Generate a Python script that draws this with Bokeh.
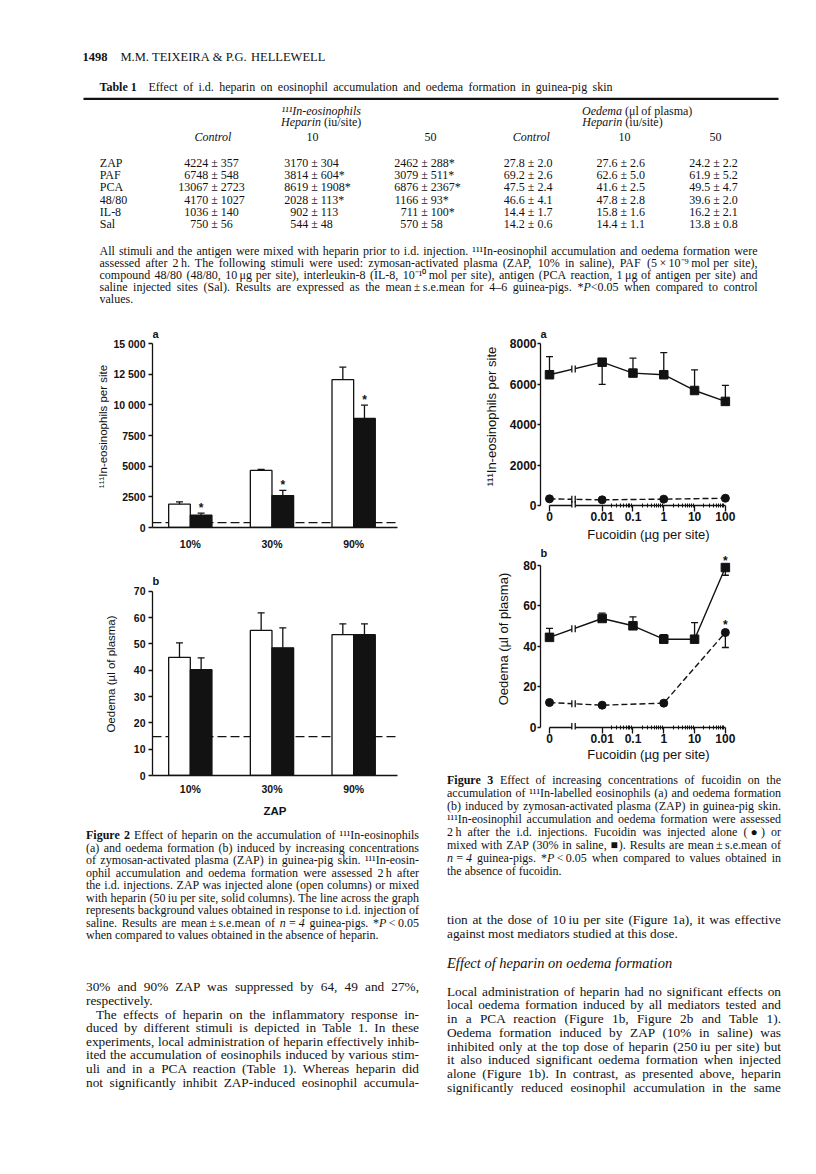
import numpy as np
from collections import defaultdict
from html import escape
from bokeh.plotting import figure
from bokeh.models import Range1d, FixedTicker, Span, Div
from bokeh.layouts import column, row
from bokeh.core.properties import value
from bokeh.embed import file_html
from bokeh.resources import INLINE

INK = "#121212"
SANS = value("Liberation Sans")
SERIF = value("Liberation Serif")

# ---------------- Figure 2 data ----------------
zap_conc = ["10%", "30%", "90%"]
eos_zap_alone = [1900, 4650, 12050]
eos_zap_alone_sem = [190, 80, 1020]
eos_zap_hep = [1000, 2600, 8890]
eos_zap_hep_sem = [170, 420, 1080]
eos_zap_hep_sig = [True, True, True]
eos_saline = 400
oed_zap_alone = [44.9, 55.1, 53.5]
oed_zap_alone_sem = [5.5, 6.7, 4.1]
oed_zap_hep = [40.2, 48.5, 53.5]
oed_zap_hep_sem = [4.5, 7.6, 4.1]
oed_zap_hep_sig = [False, False, False]
oed_saline = 14.8

# ---------------- Figure 3 data ----------------
fuc_dose = [0, 0.01, 0.1, 1, 10, 100]
fuc_labels = ["0", "0.01", "0.1", "1", "10", "100"]
f3a_zap = [6470, 7090, 6550, 6470, 5690, 5150]
f3a_zap_sem = [900, 1100, 740, 1090, 1020, 790]
f3a_zap_side = [1, -1, 1, 1, 1, 1]
f3a_zap_sig = [False] * 6
fuc_alone_dose = [0, 0.01, 1, 100]
f3a_alone = [330, 280, 315, 360]
f3a_alone_sem = [0, 0, 0, 0]
f3a_alone_side = [1, 1, 1, 1]
f3a_alone_sig = [False] * 4
f3b_zap = [44.4, 53.7, 50.1, 43.5, 43.5, 78.8]
f3b_zap_sem = [4.4, 2.6, 4.4, 2.2, 8.2, 3.8]
f3b_zap_side = [1, 1, 1, 1, 1, -1]
f3b_zap_sig = [False, False, False, False, False, True]
f3b_alone = [12.3, 11.0, 12.0, 46.8]
f3b_alone_sem = [0, 0, 0, 7.4]
f3b_alone_side = [1, 1, 1, -1]
f3b_alone_sig = [False, False, False, True]

# ---------------- Table 1 ----------------
tbl_stim = ["ZAP", "PAF", "PCA", "48/80", "IL-8", "Sal"]
tbl_eos_ctrl = ["4224 ± 357", "6748 ± 548", "13067 ± 2723", "4170 ± 1027", "1036 ± 140", "750 ± 56"]
tbl_eos_h10 = ["3170 ± 304", "3814 ± 604*", "8619 ± 1908*", "2028 ± 113*", "902 ± 113", "544 ± 48"]
tbl_eos_h50 = ["2462 ± 288*", "3079 ± 511*", "6876 ± 2367*", "1166 ± 93*", "711 ± 100*", "570 ± 58"]
tbl_oed_ctrl = ["27.8 ± 2.0", "69.2 ± 2.6", "47.5 ± 2.4", "46.6 ± 4.1", "14.4 ± 1.7", "14.2 ± 0.6"]
tbl_oed_h10 = ["27.6 ± 2.6", "62.6 ± 5.0", "41.6 ± 2.5", "47.8 ± 2.8", "15.8 ± 1.6", "14.4 ± 1.1"]
tbl_oed_h50 = ["24.2 ± 2.2", "61.9 ± 5.2", "49.5 ± 4.7", "39.6 ± 2.0", "16.2 ± 2.1", "13.8 ± 0.8"]
tbl_heads = ["§iControl", "10", "50", "§iControl", "10", "50"]

# ---------------- Text ----------------
foot_lines = [
    "All stimuli and the antigen were mixed with heparin prior to i.d. injection. ¹¹¹In-eosinophil accumulation and oedema formation were",
    "assessed after 2\u2009h. The following stimuli were used: zymosan-activated plasma (ZAP, 10% in saline), PAF (5\u2009×\u200910⁻⁹\u2009mol per site),",
    "compound 48/80 (48/80, 10\u2009μg per site), interleukin-8 (IL-8, 10⁻¹⁰\u2009mol per site), antigen (PCA reaction, 1\u2009μg of antigen per site) and",
    "saline injected sites (Sal). Results are expressed as the mean\u2009±\u2009s.e.mean for 4–6 guinea-pigs. *¦§iP¦<0.05 when compared to control",
    "values.",
]
cap2_lines = [
    "§bFigure §b2 Effect of heparin on the accumulation of ¹¹¹In-eosinophils",
    "(a) and oedema formation (b) induced by increasing concentrations",
    "of zymosan-activated plasma (ZAP) in guinea-pig skin. ¹¹¹In-eosin-",
    "ophil accumulation and oedema formation were assessed 2\u2009h after",
    "the i.d. injections. ZAP was injected alone (open columns) or mixed",
    "with heparin (50\u2009iu per site, solid columns). The line across the graph",
    "represents background values obtained in response to i.d. injection of",
    "saline. Results are mean\u2009±\u2009s.e.mean of §in\u2009=\u20094 guinea-pigs. *¦§iP¦\u2009<\u20090.05",
    "when compared to values obtained in the absence of heparin.",
]
left_body = [
    "30% and 90% ZAP was suppressed by 64, 49 and 27%,",
    "respectively.",
    "The effects of heparin on the inflammatory response in-",
    "duced by different stimuli is depicted in Table 1. In these",
    "experiments, local administration of heparin effectively inhib-",
    "ited the accumulation of eosinophils induced by various stim-",
    "uli and in a PCA reaction (Table 1). Whereas heparin did",
    "not significantly inhibit ZAP-induced eosinophil accumula-",
]
cap3_lines = [
    "§bFigure §b3 Effect of increasing concentrations of fucoidin on the",
    "accumulation of ¹¹¹In-labelled eosinophils (a) and oedema formation",
    "(b) induced by zymosan-activated plasma (ZAP) in guinea-pig skin.",
    "¹¹¹In-eosinophil accumulation and oedema formation were assessed",
    "2\u2009h after the i.d. injections. Fucoidin was injected alone (●) or",
    "mixed with ZAP (30% in saline, ■). Results are mean\u2009±\u2009s.e.mean of",
    "§in\u2009=\u20094 guinea-pigs. *¦§iP¦\u2009<\u20090.05 when compared to values obtained in",
    "the absence of fucoidin.",
]
right_body1 = [
    "tion at the dose of 10\u2009iu per site (Figure 1a), it was effective",
    "against most mediators studied at this dose.",
]
right_heading = "Effect of heparin on oedema formation"
right_body2 = [
    "Local administration of heparin had no significant effects on",
    "local oedema formation induced by all mediators tested and",
    "in a PCA reaction (Figure 1b, Figure 2b and Table 1).",
    "Oedema formation induced by ZAP (10% in saline) was",
    "inhibited only at the top dose of heparin (250\u2009iu per site) but",
    "it also induced significant oedema formation when injected",
    "alone (Figure 1b). In contrast, as presented above, heparin",
    "significantly reduced eosinophil accumulation in the same",
]

# ---------------- Times metrics (per 1000 em) ----------------
_TR = {' ': 250, '!': 333, '"': 408, '%': 833, '&': 778, "'": 333, '(': 333, ')': 333, '*': 500,
       '+': 564, ',': 250, '-': 333, '.': 250, '/': 278, ':': 278, ';': 278, '<': 564, '=': 564,
       '>': 564, '?': 444, '±': 549, '×': 564, '–': 500, 'μ': 500, '¹': 300, '⁻': 333, '⁹': 300,
       '⁰': 300, '●': 600, '■': 600, '\u2009': 167}
for c in "0123456789":
    _TR[c] = 500
for c, w in zip("ABCDEFGHIJKLMNOPQRSTUVWXYZ",
                [722, 667, 667, 722, 611, 556, 722, 722, 333, 389, 722, 611, 889, 722, 722, 556, 722,
                 667, 556, 611, 722, 722, 944, 722, 722, 611]):
    _TR[c] = w
for c, w in zip("abcdefghijklmnopqrstuvwxyz",
                [444, 500, 444, 500, 444, 333, 500, 500, 278, 278, 500, 278, 778, 500, 500, 500, 500,
                 333, 389, 278, 500, 500, 722, 500, 500, 444]):
    _TR[c] = w
_TB = {'F': 611, 'i': 278, 'g': 500, 'u': 556, 'r': 444, 'e': 444, 'T': 667, 'a': 500, 'b': 556, 'l': 278}
_TI = {'a': 500, 'r': 389, 'm': 722, 'f': 278, 'k': 444, 'y': 444, 'v': 444, 'w': 667, 'P': 611,
       'z': 389}


def tw(s, size, style="normal"):
    tot = 0.0
    for ch in s:
        w = _TR.get(ch, 500)
        if style == "bold":
            w = _TB.get(ch, w)
        elif style == "italic":
            w = _TI.get(ch, w)
        tot += w
    return tot * size / 1000.0


def parse_word(word):
    runs = []
    for part in word.split("¦"):
        st = "normal"
        if part.startswith("§b"):
            st, part = "bold", part[2:]
        elif part.startswith("§i"):
            st, part = "italic", part[2:]
        runs.append((part, st))
    return runs


def line_words(line):
    return [parse_word(w) for w in line.split(" ") if w]


def words_width(words, size):
    return [sum(tw(t, size, st) for t, st in r) for r in words]


def fit_size(lines, width, size, min_gap=0.2):
    s = size
    for ln in lines:
        words = line_words(ln)
        if len(words) < 2:
            continue
        natural = sum(words_width(words, 1.0))
        need = natural + (len(words) - 1) * min_gap
        s = min(s, width / need)
    return s


# ---------- SVG text placement (top canvas) ----------
def place_line(items, line, x0, x1, y, size, justify=True):
    words = line_words(line)
    widths = words_width(words, size)
    if justify and len(words) > 1:
        gap = (x1 - x0 - sum(widths)) / (len(words) - 1)
    else:
        gap = tw(" ", size)
    x = x0
    for runs, wd in zip(words, widths):
        xr = x
        for t, st in runs:
            items.append(dict(x=xr, y=y, text=t, style=st, size=size, align="left"))
            xr += tw(t, size, st)
        x += wd + gap


def place_center(items, line, cx, y, size):
    words = line_words(line)
    total = sum(words_width(words, size)) + (len(words) - 1) * tw(" ", size)
    place_line(items, line, cx - total / 2, cx + total / 2, y, size, justify=False)


def place_block(items, lines, x0, x1, y0, dy, size, last_left=True):
    for i, ln in enumerate(lines):
        just = not (last_left and i == len(lines) - 1)
        place_line(items, ln, x0, x1, y0 + dy * i, size, justify=just)


def render_items(p, items, font=SERIF):
    groups = defaultdict(lambda: {"x": [], "y": [], "text": []})
    for it in items:
        g = groups[(it["style"], round(it["size"], 2), it["align"])]
        g["x"].append(it["x"])
        g["y"].append(it["y"])
        g["text"].append(it["text"])
    for (st, sz, al), g in groups.items():
        p.text(x=g["x"], y=g["y"], text=g["text"], text_font=font,
               text_font_size=value(f"{sz}px"), text_font_style=st, text_align=al,
               text_baseline="middle", text_color=INK)


def canvas(w, h):
    p = figure(width=w, height=h, x_range=Range1d(0, w), y_range=Range1d(h, 0),
               output_backend="svg", toolbar_location=None, tools="",
               x_axis_type=None, y_axis_type=None,
               min_border_left=0, min_border_right=0, min_border_top=0, min_border_bottom=0)
    p.outline_line_color = None
    p.background_fill_color = "white"
    p.border_fill_color = "white"
    return p


# ---------- HTML text placement (lower text blocks) ----------
def html_word(word):
    out = ""
    for t, st in parse_word(word):
        t = escape(t)
        if st == "bold":
            out += f"<b>{t}</b>"
        elif st == "italic":
            out += f"<i>{t}</i>"
        else:
            out += t
    return out


def html_line(line, x0, x1, yc, size, justify=True):
    content = " ".join(html_word(w) for w in line.split(" ") if w)
    lh = round(size * 1.25, 2)
    al = "justify" if justify else "left"
    return (f'<div style="position:absolute;left:{x0:.1f}px;top:{yc - lh / 2:.1f}px;'
            f'width:{x1 - x0:.1f}px;height:{lh}px;line-height:{lh}px;font-size:{size:.2f}px;'
            f'white-space:nowrap;text-align:{al};text-align-last:{al};margin:0;padding:0;">{content}</div>')


def text_div(w, h, parts):
    html = (f'<div style="position:relative;width:{w}px;height:{h}px;margin:0;padding:0;'
            f'font-family:\'Liberation Serif\',serif;color:{INK};">' + "".join(parts) + '</div>')
    return Div(text=html, width=w, height=h, margin=0)


# ================= top block: header, table 1, footnote =================
top = canvas(816, 310)
items = []
items.append(dict(x=82, y=56, text="1498", style="bold", size=12.5, align="left"))
place_line(items, "M.M. TEIXEIRA & P.G. HELLEWELL", 120, 400, 56, 12.5, justify=False)
items.append(dict(x=99, y=86.7, text="Table 1", style="bold", size=12, align="left"))
place_line(items, "Effect of i.d. heparin on eosinophil accumulation and oedema formation in guinea-pig skin",
           148, 612, 86.7, 12, justify=True)
top.segment(x0=[83], y0=[98.3], x1=[778], y1=[98.3], line_color=INK, line_width=2.2)

place_center(items, "§i¹¹¹In-eosinophils", 320.7, 110, 12)
place_center(items, "§iHeparin (iu/site)", 320.7, 121.7, 12)
place_center(items, "§iOedema (μl of plasma)", 636.7, 110, 12)
place_center(items, "§iHeparin (iu/site)", 622, 121.7, 12)
head_x = [212.7, 312, 430, 531, 624, 715]
for hx, hd in zip(head_x, tbl_heads):
    place_center(items, hd, hx, 136.7, 12)

pm_x = [210.7, 310.7, 420.7, 527.3, 620, 712.7]
cols = [tbl_eos_ctrl, tbl_eos_h10, tbl_eos_h50, tbl_oed_ctrl, tbl_oed_h10, tbl_oed_h50]
TS = 12
for i, stim in enumerate(tbl_stim):
    y = 162.7 + 12.1 * i
    items.append(dict(x=99.3, y=y, text=stim, style="normal", size=TS, align="left"))
    for xpm, col in zip(pm_x, cols):
        mean, rest = col[i].split(" ± ")
        items.append(dict(x=xpm - tw(" ", TS), y=y, text=mean, style="normal", size=TS, align="right"))
        items.append(dict(x=xpm, y=y, text="± " + rest, style="normal", size=TS, align="left"))

fs = fit_size(foot_lines[:-1], 658, 12)
place_block(items, foot_lines, 99, 757, 250.5, 11.9, fs)
render_items(top, items)

# ================= chart helpers =================
def chart_fig(w, h, xr, yr, mbl, mbr, mbt, mbb):
    p = figure(width=w, height=h, x_range=Range1d(*xr), y_range=Range1d(*yr),
               output_backend="svg", toolbar_location=None, tools="",
               min_border_left=mbl, min_border_right=mbr, min_border_top=mbt, min_border_bottom=mbb)
    p.xgrid.visible = False
    p.ygrid.visible = False
    p.outline_line_color = None
    p.background_fill_color = "white"
    p.border_fill_color = "white"
    return p


def style_axis(ax, tick_size, label_size):
    ax.axis_line_color = INK
    ax.axis_line_width = 1.3
    ax.major_tick_line_color = INK
    ax.major_tick_line_width = 1.3
    ax.minor_tick_line_color = INK
    ax.minor_tick_line_width = 1.0
    ax.major_label_text_font = "Liberation Sans"
    ax.major_label_text_font_size = tick_size
    ax.major_label_text_font_style = "bold"
    ax.major_label_text_color = INK
    ax.axis_label_text_font = "Liberation Sans"
    ax.axis_label_text_font_size = label_size
    ax.axis_label_text_font_style = "normal"
    ax.axis_label_text_color = INK


def panel_letter(p, x, y, text):
    p.text(x=[x], y=[y], text=[text], text_font=SANS, text_font_style="bold",
           text_font_size=value("11px"), text_align="left", text_baseline="middle", text_color=INK)


# ================= Figure 2 =================
XC2 = np.arange(1, len(zap_conc) + 1, dtype=float)
BW = 0.265
X2 = (0.537, 3.537)


def bar_chart(p, alone, alone_sem, hep, hep_sem, saline, sig):
    alone = np.array(alone, float); hep = np.array(hep, float)
    alone_sem = np.array(alone_sem, float); hep_sem = np.array(hep_sem, float)
    p.add_layout(Span(location=saline, dimension="width", line_color=INK, line_width=1.3,
                      line_dash="9 4", level="underlay"))
    xo = XC2 - BW / 2
    xs = XC2 + BW / 2
    p.vbar(x=xo, top=alone, bottom=0, width=BW, fill_color="white", line_color=INK, line_width=1.3)
    p.vbar(x=xs, top=hep, bottom=0, width=BW, fill_color=INK, line_color=INK, line_width=1.3)
    ex = np.concatenate([xo, xs])
    ev = np.concatenate([alone, hep])
    es = np.concatenate([alone_sem, hep_sem])
    p.segment(x0=ex, y0=ev, x1=ex, y1=ev + es, line_color=INK, line_width=1.3)
    p.scatter(x=ex, y=ev + es, marker="dash", size=7, line_color=INK, line_width=1.3)
    sg = np.array(sig, bool)
    if sg.any():
        p.text(x=xs[sg], y=(hep + hep_sem)[sg], text=["*"] * int(sg.sum()), text_font=SANS,
               text_font_size=value("12px"), text_font_style="bold", text_align="center",
               text_baseline="bottom", y_offset=2, text_color=INK)


def bar_axes(p, ticks, overrides, bounds, ylabel, y_als, x_std):
    style_axis(p.xaxis[0], "10.5px", "11.5px")
    style_axis(p.yaxis[0], "10.5px", "11.5px")
    p.xaxis.ticker = FixedTicker(ticks=list(XC2))
    p.xaxis.major_label_overrides = {float(x): c for x, c in zip(XC2, zap_conc)}
    p.xaxis.major_tick_in = 0
    p.xaxis.major_tick_out = 0
    p.xaxis.minor_tick_in = 0
    p.xaxis.minor_tick_out = 0
    p.xaxis.major_label_standoff = x_std
    p.yaxis.ticker = FixedTicker(ticks=ticks)
    p.yaxis.major_label_overrides = overrides
    p.yaxis.bounds = bounds
    p.yaxis.major_tick_in = 0
    p.yaxis.major_tick_out = 4
    p.yaxis.minor_tick_in = 0
    p.yaxis.minor_tick_out = 0
    p.yaxis.major_label_standoff = 3
    p.yaxis.axis_label = ylabel
    p.yaxis.axis_label_standoff = y_als


# -- 2a: frame 245 x 202 (325..527), 15000 at 184 px
upp2a = 15000 / 184.0
f2a = chart_fig(432, 250, X2, (0, 202 * upp2a), 152, 35, 15, 33)
bar_chart(f2a, eos_zap_alone, eos_zap_alone_sem, eos_zap_hep, eos_zap_hep_sem, eos_saline, eos_zap_hep_sig)
bar_axes(f2a, [0, 2500, 5000, 7500, 10000, 12500, 15000],
         {10000: "10 000", 12500: "12 500", 15000: "15 000"}, (0, 15000),
         "¹¹¹In-eosinophils per site", 1, 10)
panel_letter(f2a, X2[0], 193.7 * upp2a, "a")

# -- 2b: frame 245 x 203 (572..775), 70 at 184.3 px
upp2b = 70 / 184.3
f2b = chart_fig(432, 265, X2, (0, 203 * upp2b), 152, 35, 12, 50)
bar_chart(f2b, oed_zap_alone, oed_zap_alone_sem, oed_zap_hep, oed_zap_hep_sem, oed_saline, oed_zap_hep_sig)
bar_axes(f2b, [0, 10, 20, 30, 40, 50, 60, 70], {}, (0, 70), "Oedema (µl of plasma)", 14, 7)
f2b.xaxis.axis_label = "ZAP"
f2b.xaxis.axis_label_standoff = 7
f2b.xaxis.axis_label_text_font_style = "bold"
panel_letter(f2b, X2[0], 194.3 * upp2b, "b")

# ================= Figure 3 =================
X_ZERO = -3.71      # plotting position of dose 0 (left of the axis break)
X_BREAK = -2.93
BREAK_HALF = 0.055
PX_DEC = 30.8
X3_START = X_ZERO - 9 / PX_DEC
X3_END = X3_START + 216 / PX_DEC


def dose_pos(d):
    return X_ZERO if d == 0 else float(round(np.log10(d), 6))


minor3 = [float(np.log10(k * 10.0 ** e)) for e in range(-2, 2) for k in range(2, 10)]


def dose_chart(p, y0, y1, zap, zap_sem, zap_side, zap_sig, alone, alone_sem, alone_side, alone_sig):
    xz = np.array([dose_pos(d) for d in fuc_dose])
    xa = np.array([dose_pos(d) for d in fuc_alone_dose])
    zap = np.array(zap, float); alone = np.array(alone, float)
    p.line(xz, zap, line_color=INK, line_width=1.4)
    p.line(xa, alone, line_color=INK, line_width=1.4, line_dash="6 3")
    p.quad(left=[X_BREAK - BREAK_HALF], right=[X_BREAK + BREAK_HALF], bottom=[y0], top=[y1],
           fill_color="white", line_color=None)
    ybz = float(np.interp(X_BREAK, xz[:2], zap[:2]))
    yba = float(np.interp(X_BREAK, xa[:2], alone[:2]))
    bx = [X_BREAK - BREAK_HALF, X_BREAK + BREAK_HALF]
    p.scatter(x=bx * 2, y=[ybz, ybz, yba, yba], marker="dash", angle=np.pi / 2, size=7,
              line_color=INK, line_width=1.3)
    # x axis line with break
    p.segment(x0=[X_ZERO, X_BREAK + BREAK_HALF], y0=[0, 0], x1=[X_BREAK - BREAK_HALF, 2], y1=[0, 0],
              line_color=INK, line_width=1.4)
    p.scatter(x=bx, y=[0, 0], marker="dash", angle=np.pi / 2, size=9, line_color=INK, line_width=1.3)
    # error bars
    for xx, vv, ss, sd in ((xz, zap, zap_sem, zap_side), (xa, alone, alone_sem, alone_side)):
        ss = np.array(ss, float); sd = np.array(sd, float)
        m = ss > 0
        end = vv + sd * ss
        if m.any():
            p.segment(x0=xx[m], y0=vv[m], x1=xx[m], y1=end[m], line_color=INK, line_width=1.3)
            p.scatter(x=xx[m], y=end[m], marker="dash", size=7, line_color=INK, line_width=1.3)
    p.scatter(xz, zap, marker="square", size=8.5, fill_color=INK, line_color=INK)
    p.scatter(xa, alone, marker="circle", size=8, fill_color=INK, line_color=INK)
    for xx, vv, sg in ((xz, zap, zap_sig), (xa, alone, alone_sig)):
        sg = np.array(sg, bool)
        if sg.any():
            p.text(x=xx[sg], y=vv[sg], text=["*"] * int(sg.sum()), text_font=SANS,
                   text_font_size=value("12px"), text_font_style="bold", text_align="center",
                   text_baseline="bottom", text_color=INK)


def dose_axes(p, yticks, ymax, ylabel, y_als, x_als):
    style_axis(p.xaxis[0], "12px", "13px")
    style_axis(p.yaxis[0], "12px", "13px")
    p.xaxis.ticker = FixedTicker(ticks=[dose_pos(d) for d in fuc_dose], minor_ticks=minor3)
    p.xaxis.major_label_overrides = {dose_pos(d): lab for d, lab in zip(fuc_dose, fuc_labels)}
    p.xaxis.axis_line_color = None
    p.xaxis.major_tick_in = 2
    p.xaxis.major_tick_out = 4
    p.xaxis.minor_tick_in = 4
    p.xaxis.minor_tick_out = 0
    p.xaxis.major_label_standoff = 0
    p.xaxis.axis_label = "Fucoidin (µg per site)"
    p.xaxis.axis_label_standoff = x_als
    p.yaxis.ticker = FixedTicker(ticks=yticks)
    p.yaxis.bounds = (0, ymax)
    p.yaxis.major_tick_in = 0
    p.yaxis.major_tick_out = 3
    p.yaxis.minor_tick_in = 0
    p.yaxis.minor_tick_out = 0
    p.yaxis.major_label_standoff = 1
    p.yaxis.axis_label = ylabel
    p.yaxis.axis_label_standoff = y_als


# -- 3a: frame 216 x 182 (540..756, 325..507); zero 2 px above frame bottom; 8000 at 161.7 px
upp3a = 8000 / 161.7
y3a = (-2 * upp3a, -2 * upp3a + 182 * upp3a)
f3a = chart_fig(384, 238, (X3_START, X3_END), y3a, 108, 60, 15, 41)
dose_chart(f3a, y3a[0], y3a[1], f3a_zap, f3a_zap_sem, f3a_zap_side, f3a_zap_sig,
           f3a_alone, f3a_alone_sem, f3a_alone_side, f3a_alone_sig)
dose_axes(f3a, [0, 2000, 4000, 6000, 8000], 8000, "¹¹¹In-eosinophils per site", 8, 3)
panel_letter(f3a, X3_START, 171.7 * upp3a, "a")

# -- 3b: frame 216 x 181 (548..729); 80 at 162.4 px
upp3b = 80 / 162.4
y3b = (-2 * upp3b, -2 * upp3b + 181 * upp3b)
f3b = chart_fig(384, 222, (X3_START, X3_END), y3b, 108, 60, 0, 41)
dose_chart(f3b, y3b[0], y3b[1], f3b_zap, f3b_zap_sem, f3b_zap_side, f3b_zap_sig,
           f3b_alone, f3b_alone_sem, f3b_alone_side, f3b_alone_sig)
dose_axes(f3b, [0, 20, 40, 60, 80], 80, "Oedema (µl of plasma)", 9, 1)
panel_letter(f3b, X3_START, 174.7 * upp3b, "b")

# ================= left text block (page y 825..) =================
parts = []
cs = fit_size(cap2_lines[:-1], 333, 12, 0.18)
for i, ln in enumerate(cap2_lines):
    parts.append(html_line(ln, 86, 419, 835.7 - 825 + 12.5 * i, cs, justify=(i < len(cap2_lines) - 1)))
bs = fit_size([l for i, l in enumerate(left_body) if i != 1], 333, 13.3, 0.18)
for i, ln in enumerate(left_body):
    yc = 987.7 - 825 + 13.6 * i
    if i == 1:
        parts.append(html_line(ln, 86, 419, yc, bs, justify=False))
    elif i == 2:
        parts.append(html_line(ln, 96, 419, yc, bs, justify=True))
    else:
        parts.append(html_line(ln, 86, 419, yc, bs, justify=True))
tl = text_div(432, 345, parts)

# ================= right text block (page x 432.., y 770..) =================
parts = []
cs3 = fit_size(cap3_lines[:-1], 334, 12, 0.18)
for i, ln in enumerate(cap3_lines):
    parts.append(html_line(ln, 15, 349, 780 - 770 + 13 * i, cs3, justify=(i < len(cap3_lines) - 1)))
bs2 = fit_size(right_body2 + right_body1[:1], 334, 13.3, 0.18)
parts.append(html_line(right_body1[0], 15, 349, 920.7 - 770, bs2, justify=True))
parts.append(html_line(right_body1[1], 15, 349, 934 - 770, bs2, justify=False))
parts.append(html_line("§i" + right_heading.replace(" ", " §i"), 15, 349, 963.3 - 770, 14.5, justify=False))
for i, ln in enumerate(right_body2):
    parts.append(html_line(ln, 15, 349, 992 - 770 + 13.7 * i, bs2, justify=True))
tr = text_div(384, 400, parts)

layout = column(top, row(column(f2a, f2b, tl), column(f3a, f3b, tr)))
open("out.html", "w").write(file_html(layout, INLINE, title="Teixeira & Hellewell 1498"))
